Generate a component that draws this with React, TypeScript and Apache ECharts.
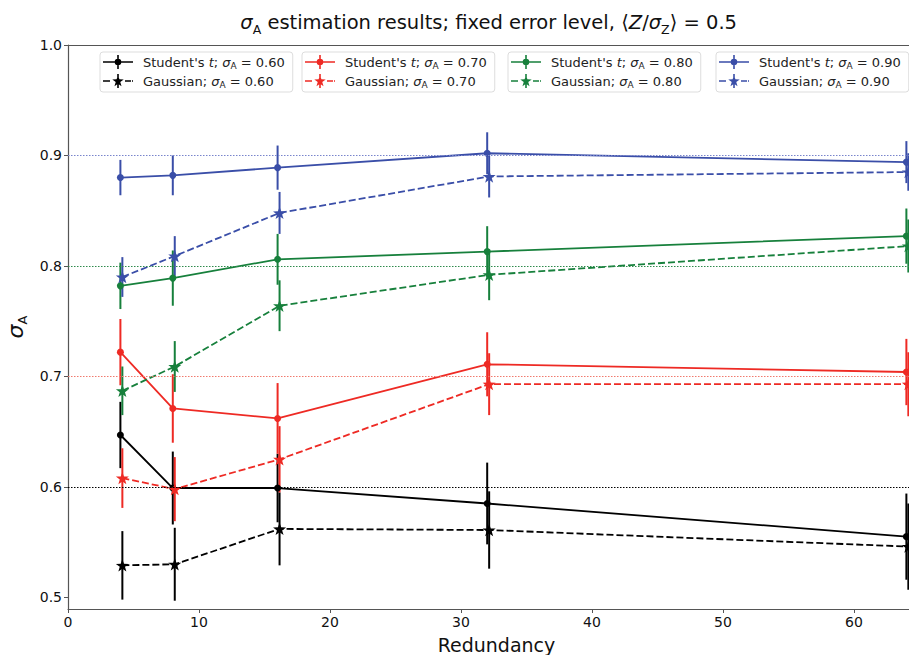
import React, { useEffect, useRef } from "react";
import * as echarts from "echarts";

// ---------------- data ----------------
const redundancy = [4, 8, 16, 32, 64];
const sigmaLabels = ["0.60", "0.70", "0.80", "0.90"];
const trueValues = [0.6, 0.7, 0.8, 0.9];
const xTicks = [0, 10, 20, 30, 40, 50, 60];
const yTicks = [0.5, 0.6, 0.7, 0.8, 0.9, 1.0];

const studentMean = [
  [0.647, 0.599, 0.599, 0.585, 0.555],
  [0.722, 0.671, 0.662, 0.711, 0.704],
  [0.782, 0.789, 0.806, 0.813, 0.827],
  [0.880, 0.882, 0.889, 0.902, 0.894],
];
const studentErr = [
  [0.030, 0.033, 0.031, 0.037, 0.039],
  [0.030, 0.031, 0.032, 0.029, 0.030],
  [0.021, 0.025, 0.023, 0.023, 0.025],
  [0.016, 0.018, 0.020, 0.019, 0.019],
];
const gaussMean = [
  [0.529, 0.530, 0.562, 0.561, 0.546],
  [0.608, 0.598, 0.625, 0.693, 0.693],
  [0.687, 0.709, 0.764, 0.792, 0.818],
  [0.790, 0.809, 0.848, 0.881, 0.885],
];
const gaussErr = [
  [0.031, 0.033, 0.033, 0.035, 0.039],
  [0.027, 0.029, 0.030, 0.028, 0.029],
  [0.022, 0.023, 0.023, 0.023, 0.024],
  [0.018, 0.018, 0.019, 0.019, 0.017],
];
const gaussOffset = 0.15;

// ---------------- style ----------------
const colors = ["#000000", "#ee2a24", "#17803c", "#3a4ea8"];
const refColors = ["#000000", "#f07a6e", "#2f8a4c", "#7884cc"];
const FONT = "DejaVu Sans";
const legendLefts = [100, 302, 508, 716];

function starPath(cx: number, cy: number, R: number, r: number) {
  let d = "";
  for (let k = 0; k < 10; k++) {
    const ang = -Math.PI / 2 + (k * Math.PI) / 5;
    const rad = k % 2 === 0 ? R : r;
    const x = cx + rad * Math.cos(ang);
    const y = cy + rad * Math.sin(ang);
    d += (k === 0 ? "M" : "L") + x.toFixed(3) + "," + y.toFixed(3) + " ";
  }
  return d + "Z";
}

const starSymbol = "path://" + starPath(0, 0, 10, 4);
const vbar = "M14.2,0 H15.8 V14 H14.2 Z ";
const circleIcon =
  "path://M0,6.2 H30 V7.8 H0 Z " + vbar + "M18.3,7 A3.3,3.3 0 1,1 11.7,7 A3.3,3.3 0 1,1 18.3,7 Z";
const starIcon =
  "path://M0,6.2 H7 V7.8 H0 Z M22,6.2 H28 V7.8 H22 Z M29,6.2 H30 V7.8 H29 Z " +
  vbar +
  starPath(15, 7.3, 6, 2.4);

const studentName = (i: number) => `Student's t; σA = ${sigmaLabels[i]}`;
const gaussName = (i: number) => `Gaussian; σA = ${sigmaLabels[i]}`;

const legendRich = {
  f: { fontFamily: FONT, fontSize: 13, color: "#222", lineHeight: 16, padding: [0, 0, 0, 5] },
  n: { fontFamily: FONT, fontSize: 13, color: "#222", lineHeight: 16 },
  i: { fontFamily: FONT, fontSize: 13, fontStyle: "italic", color: "#222", lineHeight: 16 },
  sub: { fontFamily: FONT, fontSize: 9, color: "#222", lineHeight: 10, verticalAlign: "bottom" },
};

function legendFormatter(name: string) {
  for (let i = 0; i < sigmaLabels.length; i++) {
    if (name === studentName(i))
      return `{f|Student's }{i|t}{n|; }{i|σ}{sub|A}{n| = ${sigmaLabels[i]}}`;
    if (name === gaussName(i)) return `{f|Gaussian; }{i|σ}{sub|A}{n| = ${sigmaLabels[i]}}`;
  }
  return name;
}

function errorSeries(mean: number[], err: number[], offset: number, color: string, name: string) {
  return {
    type: "custom",
    name,
    z: 3,
    renderItem: (_p: any, api: any) => {
      const x = api.value(0);
      const a = api.coord([x, api.value(1)]);
      const b = api.coord([x, api.value(2)]);
      return {
        type: "line",
        shape: { x1: a[0], y1: a[1], x2: b[0], y2: b[1] },
        style: { stroke: color, lineWidth: 2 },
      };
    },
    encode: { x: 0, y: [1, 2] },
    data: redundancy.map((x, k) => [x + offset, mean[k] - err[k], mean[k] + err[k]]),
    silent: true,
  };
}

function buildOption() {
  const series: any[] = [];
  for (let i = 0; i < 4; i++) {
    series.push(errorSeries(studentMean[i], studentErr[i], 0, colors[i], "errS" + i));
    series.push(errorSeries(gaussMean[i], gaussErr[i], gaussOffset, colors[i], "errG" + i));
    series.push({
      type: "line",
      name: studentName(i),
      z: 4,
      data: redundancy.map((x, k) => [x, studentMean[i][k]]),
      symbol: "circle",
      symbolSize: 7,
      color: colors[i],
      itemStyle: { color: colors[i], borderWidth: 0 },
      lineStyle: { color: colors[i], width: 1.8 },
      markLine: {
        silent: true,
        symbol: "none",
        animation: false,
        label: { show: false },
        lineStyle: { type: [1.5, 1.5], color: refColors[i], width: 1 },
        data: [{ yAxis: trueValues[i] }],
      },
    });
    series.push({
      type: "line",
      name: gaussName(i),
      z: 4,
      data: redundancy.map((x, k) => [x + gaussOffset, gaussMean[i][k]]),
      symbol: starSymbol,
      symbolKeepAspect: true,
      symbolSize: 13,
      color: colors[i],
      itemStyle: { color: colors[i], borderWidth: 0 },
      lineStyle: { color: colors[i], width: 1.8, type: [7, 3] },
    });
  }

  const legends = sigmaLabels.map((_s, i) => ({
    data: [
      { name: studentName(i), icon: circleIcon },
      { name: gaussName(i), icon: starIcon },
    ],
    orient: "vertical",
    left: legendLefts[i],
    top: 52,
    itemWidth: 30,
    itemHeight: 14,
    itemGap: 4,
    padding: [3, 8, 3, 3],
    backgroundColor: "rgba(255,255,255,0.85)",
    borderColor: "#dddddd",
    borderWidth: 1,
    borderRadius: 3,
    itemStyle: { borderWidth: 0 },
    selectedMode: false,
    textStyle: { fontFamily: FONT, fontSize: 13, color: "#222", rich: legendRich },
    formatter: legendFormatter,
  }));

  return {
    animation: false,
    backgroundColor: "#ffffff",
    textStyle: { fontFamily: FONT },
    title: {
      text:
        "{s|σ}{sub|A}{n| estimation results; fixed error level, ⟨}{s|Z}{n|/}{s|σ}{sub|Z}{n|⟩ = 0.5}",
      right: 167,
      top: 4,
      textStyle: {
        fontFamily: FONT,
        fontSize: 19.5,
        fontWeight: "normal",
        color: "#111",
        rich: {
          n: { fontFamily: FONT, fontSize: 19.5, color: "#111", lineHeight: 27 },
          s: { fontFamily: FONT, fontSize: 19.5, fontStyle: "italic", color: "#111", lineHeight: 27 },
          sub: { fontFamily: FONT, fontSize: 12.5, color: "#111", lineHeight: 15, verticalAlign: "bottom" },
        },
      },
    },
    legend: legends,
    grid: { left: 68, right: 0, top: 45, bottom: 46, containLabel: false, outerBoundsMode: "none" },
    xAxis: [
      {
        type: "value",
        min: 0,
        max: 64.2,
        name: "Redundancy",
        nameLocation: "middle",
        nameGap: 26,
        nameTextStyle: { fontFamily: FONT, fontSize: 19, color: "#111", padding: [0, 0, 0, 16] },
        axisLine: { show: true, lineStyle: { color: "#555", width: 1.2 } },
        axisTick: { show: true, length: 4, lineStyle: { color: "#555" }, customValues: xTicks },
        axisLabel: {
          fontFamily: FONT,
          fontSize: 14,
          color: "#111",
          margin: 6,
          customValues: xTicks,
          formatter: (v: number) => String(v),
        },
        splitLine: { show: false },
      },
      {
        type: "value",
        position: "top",
        min: 0,
        max: 64.2,
        axisLine: { show: true, lineStyle: { color: "#555", width: 1.2 } },
        axisTick: { show: false },
        axisLabel: { show: false },
        splitLine: { show: false },
      },
    ],
    yAxis: {
      type: "value",
      min: 0.4895,
      max: 1.0,
      name: "{s|σ}{sub|A}",
      nameLocation: "middle",
      nameGap: 38,
      nameTextStyle: {
        rich: {
          s: { fontFamily: FONT, fontSize: 22, fontStyle: "italic", color: "#111", lineHeight: 26 },
          sub: { fontFamily: FONT, fontSize: 13, color: "#111", lineHeight: 15, verticalAlign: "bottom" },
        },
      },
      axisLine: { show: true, lineStyle: { color: "#555", width: 1.2 } },
      axisTick: { show: true, length: 4, lineStyle: { color: "#555" }, customValues: yTicks },
      axisLabel: {
        fontFamily: FONT,
        fontSize: 14,
        color: "#111",
        margin: 6,
        customValues: yTicks,
        formatter: (v: number) => v.toFixed(1),
      },
      splitLine: { show: false },
    },
    series,
  };
}

export default function App() {
  const ref = useRef<HTMLDivElement>(null);
  useEffect(() => {
    if (!ref.current) return;
    const chart = echarts.init(ref.current, null, { renderer: "svg" });
    chart.setOption(buildOption() as any);
    return () => chart.dispose();
  }, []);
  return (
    <div
      ref={ref}
      style={{ position: "fixed", left: 0, top: 0, width: 909, height: 655, background: "#fff" }}
    />
  );
}
